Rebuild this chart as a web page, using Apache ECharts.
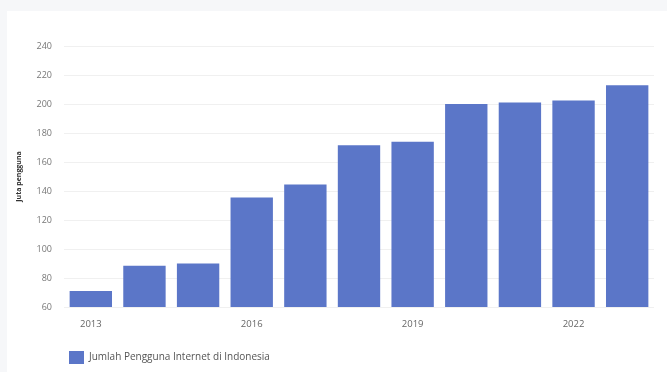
<!DOCTYPE html>
<html>
<head>
<meta charset="utf-8">
<script src="https://cdn.jsdelivr.net/npm/echarts@6/dist/echarts.min.js"></script>
<style>
  html, body { margin: 0; padding: 0; background: #ffffff; }
  #chart { width: 667px; height: 372px; }
</style>
</head>
<body>
<div id="chart"></div>
<script>
// tahun (kategori)
const years = ["2013", "2014", "2015", "2016", "2017", "2018", "2019", "2020", "2021", "2022", "2023"];
// jumlah pengguna internet (juta)
const users = [71, 88.5, 90, 135.5, 144.5, 171.5, 174, 200, 201, 202.5, 213];
const seriesName = "Jumlah Pengguna Internet di Indonesia";
const axisName = "Juta pengguna";

const chart = echarts.init(document.getElementById("chart"));
chart.setOption({
  backgroundColor: "#ffffff",
  animation: false,
  textStyle: { fontFamily: "'Open Sans', Roboto, sans-serif" },
  graphic: [
    // strip abu-abu di atas dan kiri
    { type: "rect", shape: { x: 0, y: 0, width: 667, height: 11 }, style: { fill: "#f6f7f9" }, silent: true },
    { type: "rect", shape: { x: 0, y: 0, width: 7, height: 372 }, style: { fill: "#f6f7f9" }, silent: true }
  ],
  grid: { left: 64, right: 13, top: 46, bottom: 65 },
  legend: {
    left: 64,
    top: 346,
    itemWidth: 15,
    itemHeight: 13,
    itemGap: 6,
    icon: "rect",
    textStyle: { color: "#555", fontSize: 10 },
    data: [seriesName]
  },
  xAxis: {
    type: "category",
    data: years,
    axisLine: { show: false },
    axisTick: { show: false },
    axisLabel: { interval: 2, color: "#666", fontSize: 9.5, margin: 12 }
  },
  yAxis: {
    type: "value",
    min: 60,
    max: 240,
    interval: 20,
    name: axisName,
    nameLocation: "middle",
    nameGap: 42,
    nameTextStyle: { color: "#333", fontSize: 7, fontWeight: "bold" },
    axisLine: { show: false },
    axisTick: { show: false },
    axisLabel: { color: "#777", fontSize: 9, margin: 12 },
    splitLine: { lineStyle: { color: "#f0f0f0" } }
  },
  series: [
    {
      name: seriesName,
      type: "bar",
      data: users,
      barCategoryGap: "21%",
      itemStyle: { color: "#5b76c8" }
    }
  ]
});
</script>
</body>
</html>
